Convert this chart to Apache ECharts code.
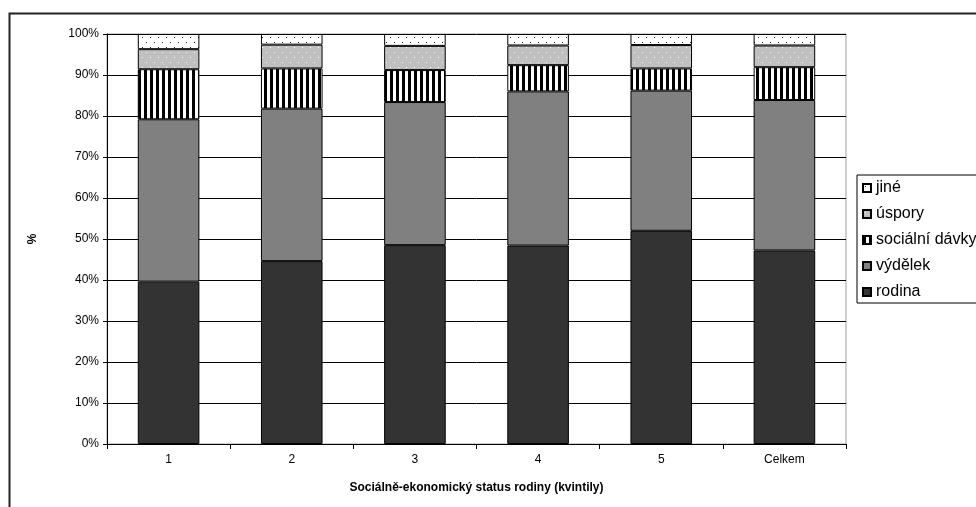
<!DOCTYPE html>
<html>
<head>
<meta charset="utf-8">
<script src="https://cdn.jsdelivr.net/npm/echarts@6/dist/echarts.min.js"></script>
<style>
html,body{margin:0;padding:0;background:#fff;}
#c{width:976px;height:507px;}
</style>
</head>
<body>
<div id="c"></div>
<script>
const categories = ['1', '2', '3', '4', '5', 'Celkem'];
const rodina = [39.6, 44.6, 48.5, 48.4, 52.0, 47.2];
const vydelek = [39.6, 37.2, 34.9, 37.6, 34.2, 36.7];
const socialniDavky = [12.2, 9.8, 7.8, 6.4, 5.4, 8.0];
const uspory = [4.9, 5.8, 5.9, 4.8, 5.7, 5.3];
const jine = [3.7, 2.6, 2.9, 2.8, 2.7, 2.8];
const seriesNames = ['rodina', 'výdělek', 'sociální dávky', 'úspory', 'jiné'];
const legendOrder = ['jiné', 'úspory', 'sociální dávky', 'výdělek', 'rodina'];
const yTicks = [0, 10, 20, 30, 40, 50, 60, 70, 80, 90, 100];

function makeCanvas(w, h, draw) {
  const c = document.createElement('canvas');
  c.width = w; c.height = h;
  const ctx = c.getContext('2d');
  draw(ctx);
  return c;
}
const stripes = makeCanvas(6, 6, ctx => {
  ctx.fillStyle = '#fff'; ctx.fillRect(0, 0, 6, 6);
  ctx.fillStyle = '#000'; ctx.fillRect(0, 0, 3, 6);
});
const grayDots = makeCanvas(8, 10, ctx => {
  ctx.fillStyle = '#c0c0c0'; ctx.fillRect(0, 0, 8, 10);
  ctx.fillStyle = '#f4f4f4'; ctx.fillRect(2, 2, 1, 1); ctx.fillRect(6, 7, 1, 1);
});
const whiteDots = makeCanvas(8, 10, ctx => {
  ctx.fillStyle = '#fff'; ctx.fillRect(0, 0, 8, 10);
  ctx.fillStyle = '#222'; ctx.fillRect(2, 2, 1, 1); ctx.fillRect(6, 7, 1, 1);
});

const fills = [
  '#333333',
  '#808080',
  { image: stripes, repeat: 'repeat' },
  { image: grayDots, repeat: 'repeat' },
  { image: whiteDots, repeat: 'repeat' }
];
const values = [rodina, vydelek, socialniDavky, uspory, jine];

const font = 'Liberation Sans, Arial, sans-serif';
const chart = echarts.init(document.getElementById('c'), null, { renderer: 'canvas' });
chart.setOption({
  animation: false,
  backgroundColor: '#fff',
  graphic: [{
    type: 'rect', left: 7, top: 11, z: -1, silent: true,
    shape: { width: 1200, height: 800 },
    style: { fill: 'none', stroke: '#222', lineWidth: 2 }
  }],
  grid: {
    left: 107, right: 130, top: 34, bottom: 63,
    show: true, borderColor: '#a0a0a0', borderWidth: 1, backgroundColor: 'transparent'
  },
  legend: {
    orient: 'vertical',
    left: 857, top: 175,
    data: legendOrder,
    icon: 'rect',
    itemWidth: 8, itemHeight: 8, itemGap: 8,
    padding: [4, 5, 2, 5],
    borderColor: '#000', borderWidth: 1, backgroundColor: '#fff',
    textStyle: { fontFamily: font, fontSize: 16, color: '#000', lineHeight: 18 }
  },
  xAxis: {
    type: 'category',
    data: categories,
    boundaryGap: true,
    axisLine: { lineStyle: { color: '#000', width: 1 } },
    axisTick: { show: true, interval: 0, length: 5, lineStyle: { color: '#000' } },
    axisLabel: { fontFamily: font, fontSize: 12, color: '#000', margin: 10, interval: 0 },
    name: 'Sociálně-ekonomický status rodiny (kvintily)',
    nameLocation: 'middle',
    nameGap: 38,
    nameTextStyle: { fontFamily: font, fontSize: 12, fontWeight: 'bold', color: '#000' }
  },
  yAxis: {
    type: 'value',
    min: yTicks[0], max: yTicks[yTicks.length - 1], interval: yTicks[1] - yTicks[0],
    axisLine: { show: true, lineStyle: { color: '#000', width: 1 } },
    axisTick: { show: true, length: 4, lineStyle: { color: '#000' } },
    axisLabel: { fontFamily: font, fontSize: 12, color: '#000', margin: 8, formatter: '{value}%' },
    splitLine: { show: true, lineStyle: { color: '#000', width: 1 } },
    name: '%',
    nameLocation: 'middle',
    nameGap: 68,
    nameRotate: 90,
    nameTextStyle: { fontFamily: font, fontSize: 12, fontWeight: 'bold', color: '#000' }
  },
  series: seriesNames.map((name, i) => ({
    name: name,
    type: 'bar',
    stack: 'total',
    barWidth: '50%',
    data: values[i],
    itemStyle: { color: fills[i], borderColor: '#000', borderWidth: 1 },
    emphasis: { disabled: true }
  }))
});
</script>
</body>
</html>
